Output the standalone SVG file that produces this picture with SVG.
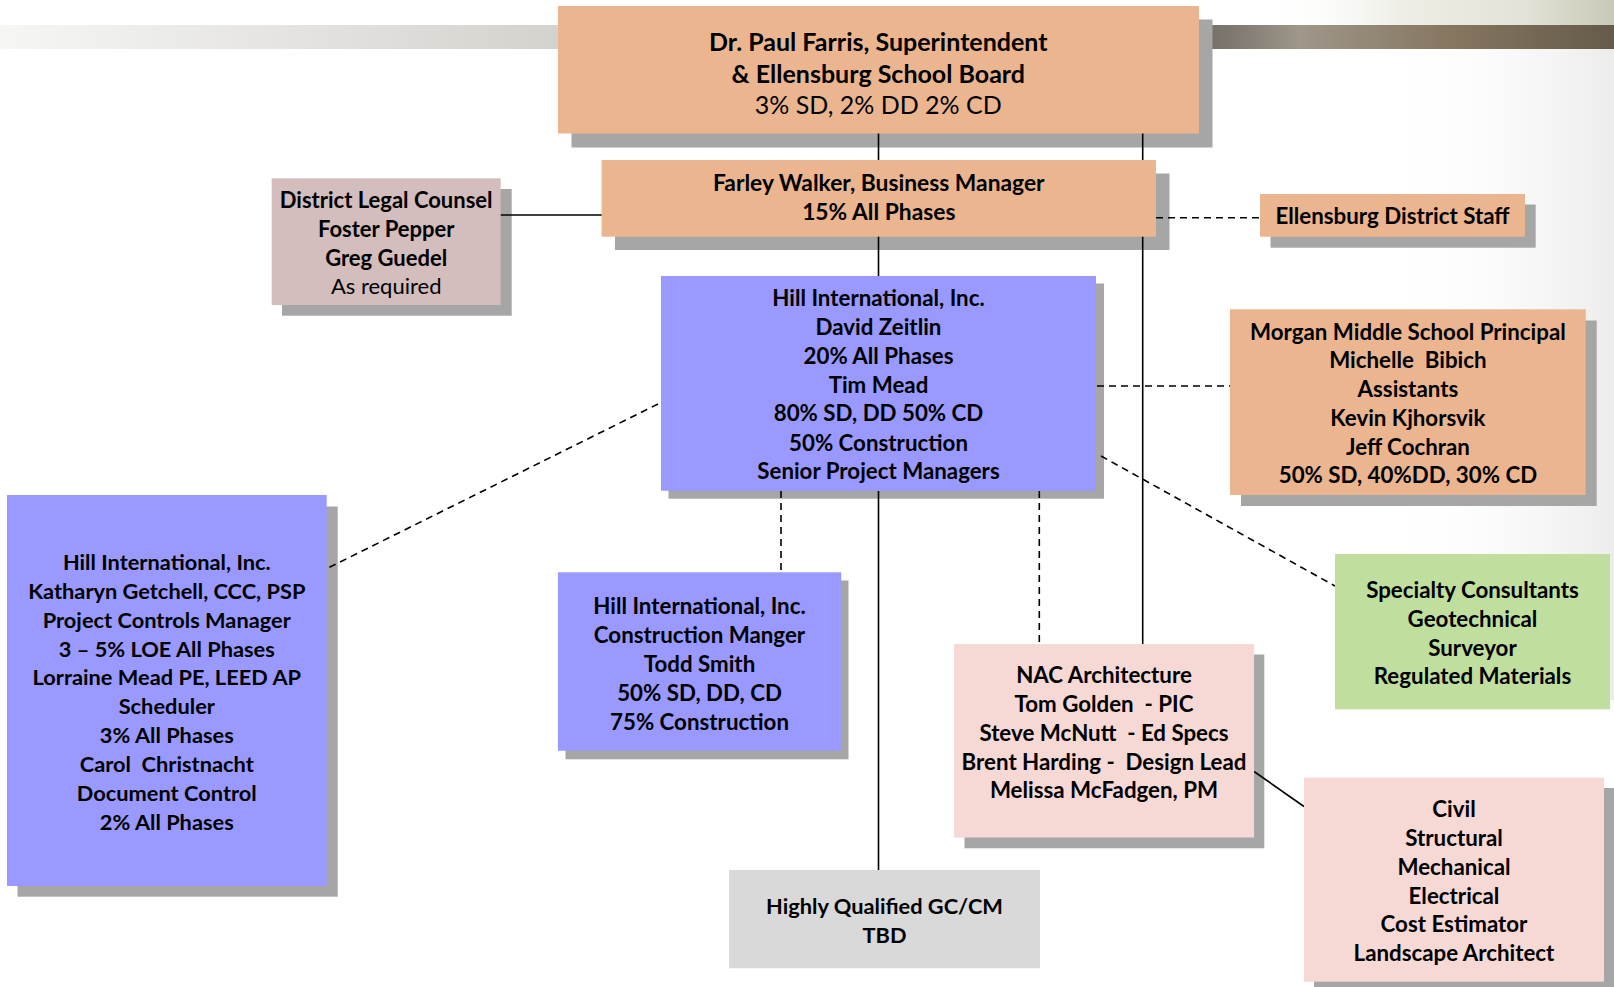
<svg xmlns="http://www.w3.org/2000/svg" width="1614" height="987" viewBox="0 0 1614 987">
<defs>
<linearGradient id="bandL" x1="0" y1="0" x2="1" y2="0">
<stop offset="0" stop-color="#f6f6f5"/>
<stop offset="1" stop-color="#d4d2cd"/>
</linearGradient>
<linearGradient id="bandR" x1="0" y1="0" x2="1" y2="0">
<stop offset="0" stop-color="#716c66"/>
<stop offset="0.08" stop-color="#7c766e"/>
<stop offset="0.25" stop-color="#9f978a"/>
<stop offset="0.6" stop-color="#867761"/>
<stop offset="1" stop-color="#655b4a"/>
</linearGradient>
<linearGradient id="photo" x1="0" y1="0" x2="1" y2="0">
<stop offset="0" stop-color="#ffffff" stop-opacity="0"/>
<stop offset="0.4" stop-color="#eeeee6"/>
<stop offset="0.75" stop-color="#e2e2d6"/>
<stop offset="1" stop-color="#c9c9b8"/>
</linearGradient>
<linearGradient id="edge" x1="0" y1="0" x2="1" y2="0">
<stop offset="0" stop-color="#ffffff" stop-opacity="0"/>
<stop offset="1" stop-color="#ececec"/>
</linearGradient>
<style>
.sh{fill:#a6a6a6}
.or{fill:#ebb590}
.bl{fill:#9999ff}
.lg{fill:#d3bdbd}
.pk{fill:#f6d8d5}
.gr{fill:#c0df9f}
.gy{fill:#d9d9d9}
text{font-family:Lato,"Liberation Sans",Arial,sans-serif;font-weight:bold;font-size:22.3px;fill:#000;text-anchor:middle;white-space:pre}
.r{font-weight:normal}
.s218{font-size:21.8px}
.ln{stroke:#000;stroke-width:1.6;fill:none}
.ds{stroke:#000;stroke-width:1.6;fill:none;stroke-dasharray:7 5}
</style>
</defs>
<g id="background">
<rect x="0" y="0" width="1614" height="987" fill="#ffffff"/>
<rect x="1380" y="0" width="234" height="700" fill="url(#edge)"/>
<rect x="1260" y="0" width="354" height="25" fill="url(#photo)"/>
<rect x="0" y="25" width="560" height="24" fill="url(#bandL)"/>
<rect x="1195" y="25" width="419" height="24" fill="url(#bandR)"/>
</g>
<g id="shadows">
<rect class="sh" x="571.5" y="19.5" width="641" height="128"/>
<rect class="sh" x="615" y="173.5" width="554.5" height="76.5"/>
<rect class="sh" x="282" y="189" width="229.7" height="126.7"/>
<rect class="sh" x="1270.5" y="204.5" width="265.2" height="43.2"/>
<rect class="sh" x="668.5" y="283.5" width="435.5" height="215.2"/>
<rect class="sh" x="1241" y="320.5" width="355.7" height="185.5"/>
<rect class="sh" x="17.5" y="506.5" width="320.2" height="390.2"/>
<rect class="sh" x="565.5" y="580.5" width="283" height="178.8"/>
<rect class="sh" x="964.5" y="654.5" width="299.8" height="193.8"/>
<rect class="sh" x="1314" y="788" width="300" height="199"/>
</g>
<g id="connectors">
<line class="ln" x1="878.5" y1="133" x2="878.5" y2="276"/>
<line class="ln" x1="878.5" y1="491" x2="878.5" y2="870"/>
<line class="ln" x1="1142.7" y1="133" x2="1142.7" y2="644"/>
<line class="ln" x1="500" y1="215" x2="602" y2="215"/>
<line class="ds" x1="1156" y1="217.7" x2="1260" y2="217.7"/>
<line class="ds" x1="1097" y1="386" x2="1230" y2="386"/>
<line class="ds" x1="781" y1="491" x2="781" y2="572"/>
<line class="ds" x1="1039.3" y1="491" x2="1039.3" y2="644"/>
<line class="ds" x1="658" y1="404" x2="327" y2="568.5"/>
<line class="ds" x1="1101" y1="456" x2="1335" y2="586"/>
<line class="ln" x1="1254" y1="771.5" x2="1304" y2="806.5"/>
</g>
<g id="superintendent">
<rect class="or" x="558" y="6" width="641" height="127.5"/>
<text x="878.3" y="51" style="font-size:25px">Dr. Paul Farris, Superintendent</text>
<text x="878.3" y="82.5" style="font-size:25px">&amp; Ellensburg School Board</text>
<text x="878.3" y="114" class="r" style="font-size:25px">3% SD, 2% DD 2% CD</text>
</g>
<g id="business-manager">
<rect class="or" x="601.6" y="160" width="554.4" height="76.7"/>
<text x="878.8" y="191" style="font-size:22.8px">Farley Walker, Business Manager</text>
<text x="878.8" y="220" style="font-size:22.8px">15% All Phases</text>
</g>
<g id="legal-counsel">
<rect class="lg" x="271.7" y="178.3" width="229" height="126.7"/>
<text x="386.2" y="208" style="font-size:22px">District Legal Counsel</text>
<text x="386.2" y="237" style="font-size:22px">Foster Pepper</text>
<text x="386.2" y="265.5" style="font-size:22px">Greg Guedel</text>
<text x="386.2" y="294" class="r" style="font-size:22px">As required</text>
</g>
<g id="district-staff">
<rect class="or" x="1260" y="194" width="265" height="42.7"/>
<text x="1392.5" y="224">Ellensburg District Staff</text>
</g>
<g id="hill-main">
<rect class="bl" x="661" y="276" width="435" height="214.7"/>
<text x="878.5" y="306">Hill International, Inc.</text>
<text x="878.5" y="335">David Zeitlin</text>
<text x="878.5" y="363.5">20% All Phases</text>
<text x="878.5" y="392.5">Tim Mead</text>
<text x="878.5" y="421">80% SD, DD 50% CD</text>
<text x="878.5" y="450.5">50% Construction</text>
<text x="878.5" y="479">Senior Project Managers</text>
</g>
<g id="morgan-principal">
<rect class="or" x="1230" y="309.3" width="355.7" height="185.7"/>
<text x="1407.9" y="339.5">Morgan Middle School Principal</text>
<text x="1407.9" y="368">Michelle  Bibich</text>
<text x="1407.9" y="397">Assistants</text>
<text x="1407.9" y="425.5">Kevin Kjhorsvik</text>
<text x="1407.9" y="454.5">Jeff Cochran</text>
<text x="1407.9" y="483">50% SD, 40%DD, 30% CD</text>
</g>
<g id="project-controls">
<rect class="bl" x="7" y="495" width="319.7" height="391"/>
<text class="s218" x="166.8" y="570">Hill International, Inc.</text>
<text class="s218" x="166.8" y="599">Katharyn Getchell, CCC, PSP</text>
<text class="s218" x="166.8" y="627.7">Project Controls Manager</text>
<text class="s218" x="166.8" y="656.6">3 – 5% LOE All Phases</text>
<text class="s218" x="166.8" y="685.4">Lorraine Mead PE, LEED AP</text>
<text class="s218" x="166.8" y="714.3">Scheduler</text>
<text class="s218" x="166.8" y="743.1">3% All Phases</text>
<text class="s218" x="166.8" y="772">Carol  Christnacht</text>
<text class="s218" x="166.8" y="800.8">Document Control</text>
<text class="s218" x="166.8" y="829.7">2% All Phases</text>
</g>
<g id="construction-manager">
<rect class="bl" x="557.9" y="572.3" width="283.3" height="178.4"/>
<text x="699.5" y="613.5">Hill International, Inc.</text>
<text x="699.5" y="642.5">Construction Manger</text>
<text x="699.5" y="671.5">Todd Smith</text>
<text x="699.5" y="700.5">50% SD, DD, CD</text>
<text x="699.5" y="729.5">75% Construction</text>
</g>
<g id="nac-architecture">
<rect class="pk" x="954.1" y="644" width="300" height="193.5"/>
<text x="1104" y="682.5">NAC Architecture</text>
<text x="1104" y="711.5">Tom Golden  - PIC</text>
<text x="1104" y="740.5">Steve McNutt  - Ed Specs</text>
<text x="1104" y="769.5">Brent Harding -  Design Lead</text>
<text x="1104" y="798">Melissa McFadgen, PM</text>
</g>
<g id="specialty-consultants">
<rect class="gr" x="1335" y="554" width="275" height="155.3"/>
<text x="1472.5" y="598">Specialty Consultants</text>
<text x="1472.5" y="627">Geotechnical</text>
<text x="1472.5" y="656">Surveyor</text>
<text x="1472.5" y="684">Regulated Materials</text>
</g>
<g id="engineering-consultants">
<rect class="pk" x="1304" y="777.7" width="300" height="204"/>
<text x="1454" y="817">Civil</text>
<text x="1454" y="846">Structural</text>
<text x="1454" y="874.5">Mechanical</text>
<text x="1454" y="903.5">Electrical</text>
<text x="1454" y="932">Cost Estimator</text>
<text x="1454" y="960.5">Landscape Architect</text>
</g>
<g id="general-contractor">
<rect class="gy" x="729" y="870" width="311" height="98.3"/>
<text class="s218" x="884.5" y="913.5">Highly Qualified GC/CM</text>
<text class="s218" x="884.5" y="943">TBD</text>
</g>
</svg>
